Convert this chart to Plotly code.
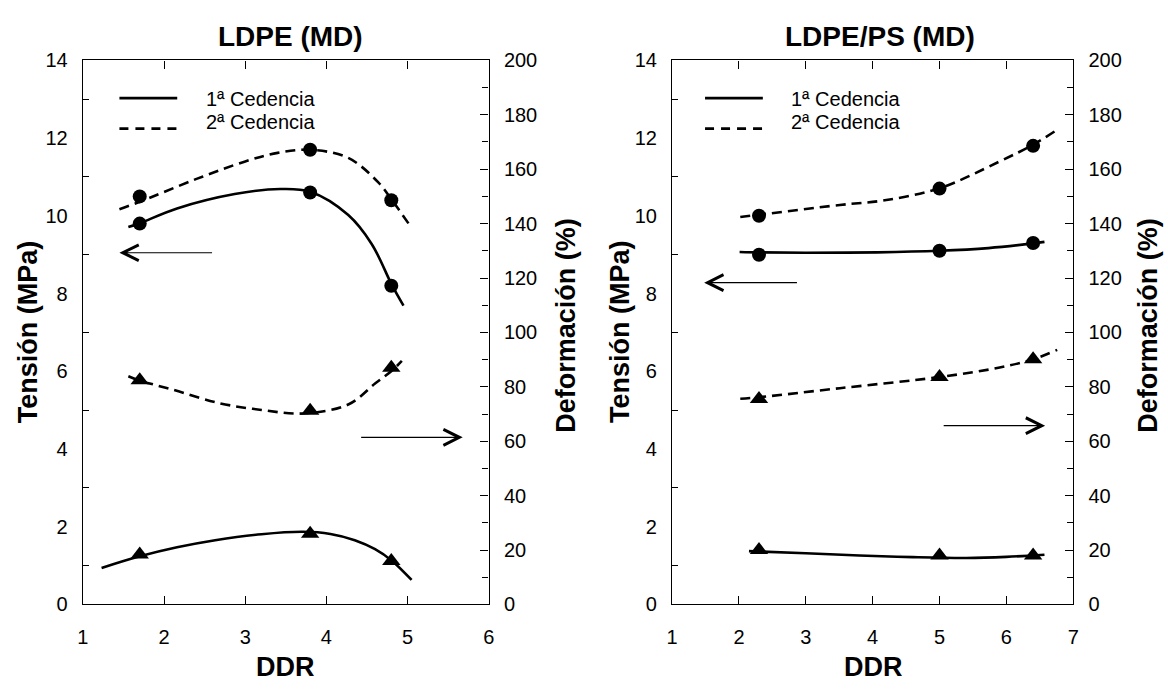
import plotly.graph_objects as go

# ---------------- data ----------------
# LDPE (MD): measured points
ldpe_ddr = [1.7, 3.8, 4.8]
ldpe_t1 = [9.8, 10.6, 8.2]        # Tensión 1ª cedencia (MPa)
ldpe_t2 = [10.5, 11.7, 10.4]      # Tensión 2ª cedencia (MPa)
ldpe_d1 = [18.4, 26.0, 16.0]      # Deformación 1ª cedencia (%)
ldpe_d2 = [82.4, 71.2, 87.0]      # Deformación 2ª cedencia (%)

# LDPE (MD): fitted curves as drawn
ldpe_t1_fit_x = [1.56, 1.70, 2.16, 2.87, 3.43, 3.80, 4.27, 4.56, 4.81, 4.95]
ldpe_t1_fit_y = [9.71, 9.81, 10.19, 10.56, 10.69, 10.62, 10.02, 9.27, 8.21, 7.69]
ldpe_t2_fit_x = [1.45, 1.70, 2.40, 3.00, 3.40, 3.80, 4.27, 4.64, 4.81, 5.02]
ldpe_t2_fit_y = [10.17, 10.36, 10.95, 11.40, 11.62, 11.70, 11.49, 10.86, 10.40, 9.78]
ldpe_d1_fit_x = [1.23, 1.69, 2.16, 2.63, 3.20, 3.71, 4.05, 4.35, 4.60, 4.81, 5.05]
ldpe_d1_fit_y = [13.4, 17.6, 21.0, 23.6, 25.8, 26.7, 25.9, 23.6, 20.3, 16.0, 9.0]
ldpe_d2_fit_x = [1.56, 1.69, 2.10, 2.68, 3.20, 3.71, 4.27, 4.60, 4.81, 4.93]
ldpe_d2_fit_y = [83.9, 82.4, 79.0, 74.0, 71.5, 70.2, 73.5, 81.2, 86.0, 89.5]

# LDPE/PS (MD): measured points
ps_ddr = [2.3, 5.0, 6.4]
ps_t1 = [9.0, 9.1, 9.3]
ps_t2 = [10.0, 10.7, 11.8]
ps_d1 = [20.0, 18.0, 18.0]
ps_d2 = [75.5, 83.6, 90.1]

# LDPE/PS (MD): fitted curves as drawn
ps_t1_fit_x = [2.01, 2.31, 3.00, 4.07, 5.00, 5.73, 6.40, 6.57]
ps_t1_fit_y = [9.07, 9.06, 9.05, 9.06, 9.10, 9.17, 9.29, 9.33]
ps_t2_fit_x = [2.02, 2.31, 3.51, 4.18, 5.00, 5.90, 6.40, 6.72]
ps_t2_fit_y = [9.97, 10.03, 10.28, 10.40, 10.71, 11.40, 11.83, 12.17]
ps_d1_fit_x = [2.15, 3.00, 3.80, 4.60, 5.40, 6.00, 6.57]
ps_d1_fit_y = [19.6, 18.8, 18.0, 17.4, 17.1, 17.5, 18.3]
ps_d2_fit_x = [2.02, 2.31, 3.51, 5.00, 5.90, 6.40, 6.76]
ps_d2_fit_y = [75.6, 76.2, 79.5, 83.6, 87.1, 90.1, 93.6]

titles = ["LDPE (MD)", "LDPE/PS (MD)"]
legend_labels = ["1ª Cedencia", "2ª Cedencia"]
x_title = "DDR"
y_left_title = "Tensión (MPa)"
y_right_title = "Deformación (%)"

# ---------------- styling ----------------
W, H = 1168, 690
FONT = "Liberation Sans, Arial, sans-serif"
BLACK = "#000000"
LW = 2.6
DASH = "10px,6px"


def px(x):
    return x / W


def py(y):
    return 1 - y / H


fig = go.Figure()

panels = [
    dict(xa="x", ya="y", ya2="y2", ddr=ldpe_ddr, t1=ldpe_t1, t2=ldpe_t2, d1=ldpe_d1, d2=ldpe_d2,
         fits=[(ldpe_t1_fit_x, ldpe_t1_fit_y, "solid", "y"),
               (ldpe_t2_fit_x, ldpe_t2_fit_y, DASH, "y"),
               (ldpe_d1_fit_x, ldpe_d1_fit_y, "solid", "y2"),
               (ldpe_d2_fit_x, ldpe_d2_fit_y, DASH, "y2")]),
    dict(xa="x2", ya="y3", ya2="y4", ddr=ps_ddr, t1=ps_t1, t2=ps_t2, d1=ps_d1, d2=ps_d2,
         fits=[(ps_t1_fit_x, ps_t1_fit_y, "solid", "y3"),
               (ps_t2_fit_x, ps_t2_fit_y, DASH, "y3"),
               (ps_d1_fit_x, ps_d1_fit_y, "solid", "y4"),
               (ps_d2_fit_x, ps_d2_fit_y, DASH, "y4")]),
]

for p in panels:
    for fx, fy, dash, ya in p["fits"]:
        fig.add_trace(go.Scatter(x=fx, y=fy, mode="lines", xaxis=p["xa"], yaxis=ya,
                                 line=dict(color=BLACK, width=LW, dash=dash, shape="spline", smoothing=1.0),
                                 showlegend=False, hoverinfo="skip"))
    for vals, ya in [(p["t1"], p["ya"]), (p["t2"], p["ya"])]:
        fig.add_trace(go.Scatter(x=p["ddr"], y=vals, mode="markers", xaxis=p["xa"], yaxis=ya,
                                 marker=dict(symbol="circle", size=14, color=BLACK),
                                 showlegend=False))
    for vals, ya in [(p["d1"], p["ya2"]), (p["d2"], p["ya2"])]:
        fig.add_trace(go.Scatter(x=p["ddr"], y=vals, mode="markers", xaxis=p["xa"], yaxis=ya,
                                 marker=dict(symbol="triangle-up", size=16, color=BLACK),
                                 showlegend=False))

# ---------------- axes ----------------
YDOM = [py(613), py(51)]
XDOM1 = [px(77.7), px(487.7)]
XDOM2 = [px(673.0), px(1078.3)]
tickfont = dict(family=FONT, size=20, color=BLACK)

common_x = dict(showgrid=False, zeroline=False, showline=True, linecolor=BLACK, linewidth=1.4,
                ticks="inside", ticklen=8, tickwidth=1.2, tickcolor=BLACK, mirror="ticks",
                dtick=1, tickfont=tickfont, ticklabelstandoff=14)
common_yl = dict(showgrid=False, zeroline=False, showline=True, linecolor=BLACK, linewidth=1.4,
                 range=[0, 14], dtick=2, ticks="", tickfont=tickfont, ticklabelstandoff=10,
                 minor=dict(ticks="inside", dtick=1, ticklen=6, tickwidth=1.2, tickcolor=BLACK),
                 domain=YDOM)
common_yr = dict(showgrid=False, zeroline=False, showline=True, linecolor=BLACK, linewidth=1.4,
                 range=[0, 200], dtick=20, ticks="inside", ticklen=8, tickwidth=1.2, tickcolor=BLACK,
                 tickfont=tickfont, ticklabelstandoff=10, side="right",
                 minor=dict(ticks="inside", dtick=10, ticklen=6, tickwidth=1.2, tickcolor=BLACK))

fig.update_layout(
    xaxis=dict(common_x, domain=XDOM1, range=[1, 6], anchor="y"),
    yaxis=dict(common_yl, anchor="x"),
    yaxis2=dict(common_yr, overlaying="y", anchor="x"),
    xaxis2=dict(common_x, domain=XDOM2, range=[1, 7], anchor="y3"),
    yaxis3=dict(common_yl, anchor="x2"),
    yaxis4=dict(common_yr, overlaying="y3", anchor="x2"),
)

# ---------------- texts ----------------
ann = []
title_font = dict(family=FONT, size=28, color=BLACK, weight="bold")
label_font = dict(family=FONT, size=27, color=BLACK, weight="bold")
for t, cx in zip(titles, [287, 883]):
    ann.append(dict(text=t, x=px(cx), y=py(26), xref="paper", yref="paper", showarrow=False,
                    xanchor="center", yanchor="middle", font=title_font))
for cx in [282, 876]:
    ann.append(dict(text=x_title, x=px(cx), y=py(678), xref="paper", yref="paper", showarrow=False,
                    xanchor="center", yanchor="middle", font=label_font))
for cx in [23, 621]:
    ann.append(dict(text=y_left_title, x=px(cx), y=py(331), xref="paper", yref="paper", showarrow=False,
                    textangle=-90, xanchor="center", yanchor="middle", font=label_font))
for cx in [565, 1153]:
    ann.append(dict(text=y_right_title, x=px(cx), y=py(325), xref="paper", yref="paper", showarrow=False,
                    textangle=-90, xanchor="center", yanchor="middle", font=label_font))

# arrows showing which axis each family uses (head, tail in data coords)
arrows = [("x", "y", 1.45, 9.05, 2.61, 9.05), ("x", "y", 5.68, 4.30, 4.41, 4.30),
          ("x2", "y3", 1.48, 8.28, 2.89, 8.28), ("x2", "y3", 6.58, 4.60, 5.04, 4.60)]
for xr, yr, hx, hy, tx, ty in arrows:
    ann.append(dict(text="", x=hx, y=hy, ax=tx, ay=ty, xref=xr, yref=yr, axref=xr, ayref=yr,
                    showarrow=True, arrowhead=5, arrowsize=2.6, arrowwidth=1.2, arrowcolor=BLACK,
                    standoff=0, startstandoff=0))

# manual legends (long line samples like the original)
shapes = []
leg_font = dict(family=FONT, size=20, color=BLACK)
for lx0, lx1, tx in [(114.6, 173.0, 200), (706.3, 764.7, 791)]:
    shapes.append(dict(type="line", xref="paper", yref="paper", x0=px(lx0), x1=px(lx1),
                       y0=py(90), y1=py(90), line=dict(color=BLACK, width=LW)))
    shapes.append(dict(type="line", xref="paper", yref="paper", x0=px(lx0), x1=px(lx1),
                       y0=py(121.5), y1=py(121.5), line=dict(color=BLACK, width=LW, dash="9px,7px")))
    for lab, ty in zip(legend_labels, [90.7, 115]):
        ann.append(dict(text=lab, x=px(tx), y=py(ty), xref="paper", yref="paper", showarrow=False,
                        xanchor="left", yanchor="middle", font=leg_font))

fig.update_layout(
    width=W, height=H, margin=dict(l=0, r=0, t=0, b=0),
    paper_bgcolor="white", plot_bgcolor="white",
    showlegend=False, annotations=ann, shapes=shapes,
    font=dict(family=FONT, color=BLACK),
)

fig.write_html("out.html", config={"displayModeBar": False},
               post_script="document.body.style.margin='0px';")
